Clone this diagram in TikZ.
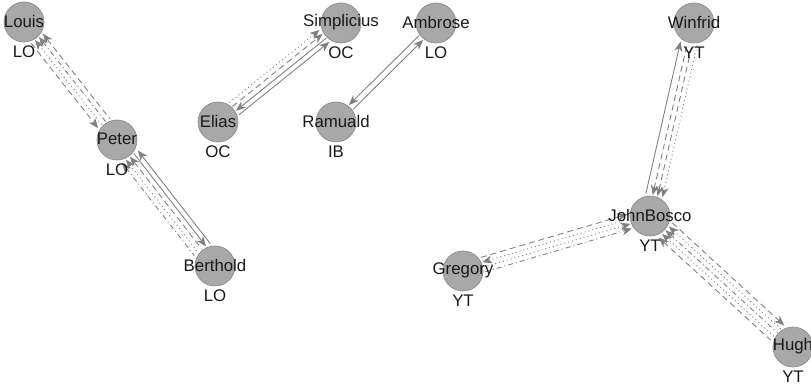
\documentclass[tikz,border=0pt]{standalone}
\usepackage{fontspec}
\setmainfont{Liberation Sans}
\usetikzlibrary{calc,arrows.meta}
\definecolor{nodefill}{RGB}{168,168,168}
\definecolor{nodeedge}{RGB}{140,140,140}
\definecolor{edgegray}{RGB}{128,128,128}
\newcommand\pe[4]{\draw[e,#4] ($(#1)!21pt!(#2)!#3!90:(#2)$) -- ($(#2)!21pt!(#1)!#3!-90:(#1)$);}
\begin{document}
\begin{tikzpicture}[x=1pt,y=-1pt,
  vert/.style={circle,fill=nodefill,draw=nodeedge,line width=0.7pt,minimum size=40pt,inner sep=0pt},
  nm/.style={font=\fontsize{16.8}{17}\selectfont,text=black!90,inner sep=0pt},
  e/.style={draw=edgegray,line width=0.9pt,>={Stealth[length=10pt,width=8pt,inset=3pt]}},
  dsh/.style={dash pattern=on 6pt off 4pt},
  dt/.style={dash pattern=on 1pt off 3pt},
  dd/.style={dash pattern=on 5pt off 3pt on 1pt off 3pt}]
\useasboundingbox (0,0) rectangle (811,387);
% vertices
\node[vert] (L) at (24,22) {};
\node[vert] (P) at (117,140) {};
\node[vert] (B) at (215,266) {};
\node[vert] (E) at (218,122) {};
\node[vert] (S) at (341,23) {};
\node[vert] (R) at (336,122) {};
\node[vert] (A) at (436,23) {};
\node[vert] (W) at (694,23) {};
\node[vert] (J) at (650,216) {};
\node[vert] (G) at (463,271) {};
\node[vert] (H) at (793,347) {};
% edges
\pe{L}{P}{-7.5pt}{dsh,->}
\pe{L}{P}{-2.5pt}{dt,<-}
\pe{L}{P}{2.5pt}{dd,<-}
\pe{L}{P}{7.5pt}{dsh,<-}
\pe{P}{B}{10pt}{<-}
\pe{P}{B}{5pt}{->}
\pe{P}{B}{0pt}{dsh,<-}
\pe{P}{B}{-5pt}{dt,<-}
\pe{P}{B}{-10pt}{dd,<-}
\pe{E}{S}{8pt}{dt,->}
\pe{E}{S}{3pt}{dsh,->}
\pe{E}{S}{-2.5pt}{<-}
\pe{E}{S}{-7.5pt}{->}
\pe{R}{A}{3pt}{<-}
\pe{R}{A}{-3pt}{->}
\pe{J}{W}{9pt}{->}
\pe{J}{W}{2pt}{dsh,<-}
\pe{J}{W}{-3pt}{dsh,<-}
\pe{J}{W}{-8pt}{dt,<-}
\pe{G}{J}{8pt}{dsh,->}
\pe{G}{J}{3pt}{dt,<-}
\pe{G}{J}{-2pt}{dt,->}
\pe{G}{J}{-7pt}{dd,->}
\pe{J}{H}{10pt}{dsh,->}
\pe{J}{H}{5pt}{dt,<-}
\pe{J}{H}{0pt}{dd,<-}
\pe{J}{H}{-5pt}{dt,<-}
\pe{J}{H}{-10pt}{dsh,<-}
% labels
\foreach \n/\t/\g in {L/Louis/LO,P/Peter/LO,B/Berthold/LO,E/Elias/OC,S/Simplicius/OC,R/Ramuald/IB,A/Ambrose/LO,W/Winfrid/YT,J/JohnBosco/YT,G/Gregory/YT,H/Hugh/YT}{
  \node[nm] (\n name) at ($(\n)+(0,-1)$) {\t};
  \node[nm] (\n grp) at ($(\n)+(0,30)$) {\g};
}
\end{tikzpicture}
\end{document}
